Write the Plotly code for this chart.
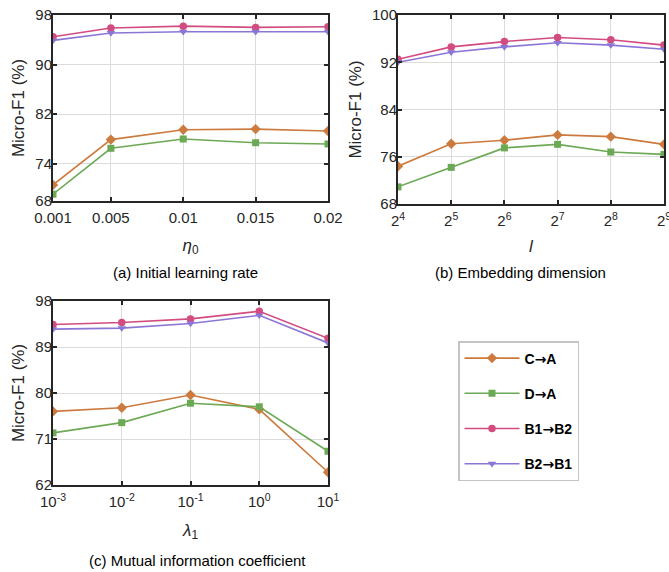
import plotly.graph_objects as go

# ---------------- data ----------------
series_names = ["C→A", "D→A", "B1→B2", "B2→B1"]

lr_values = [0.001, 0.005, 0.01, 0.015, 0.02]
lr_tick_text = ["0.001", "0.005", "0.01", "0.015", "0.02"]
lr_CA = [70.6, 77.9, 79.5, 79.6, 79.3]
lr_DA = [69.1, 76.5, 78.0, 77.4, 77.2]
lr_B1B2 = [94.5, 95.9, 96.2, 96.0, 96.1]
lr_B2B1 = [93.9, 95.1, 95.3, 95.3, 95.3]

dim_values = [16, 32, 64, 128, 256, 512]
dim_tick_text = ["2<sup>4</sup>", "2<sup>5</sup>", "2<sup>6</sup>", "2<sup>7</sup>", "2<sup>8</sup>", "2<sup>9</sup>"]
dim_CA = [74.4, 78.2, 78.8, 79.7, 79.4, 78.1]
dim_DA = [70.9, 74.2, 77.5, 78.1, 76.8, 76.4]
dim_B1B2 = [92.5, 94.6, 95.5, 96.2, 95.8, 94.9]
dim_B2B1 = [92.0, 93.7, 94.6, 95.3, 94.9, 94.2]

mi_values = [0.001, 0.01, 0.1, 1, 10]
mi_tick_text = ["10<sup>-3</sup>", "10<sup>-2</sup>", "10<sup>-1</sup>", "10<sup>0</sup>", "10<sup>1</sup>"]
mi_CA = [76.4, 77.1, 79.6, 76.8, 64.5]
mi_DA = [72.2, 74.2, 78.0, 77.3, 68.6]
mi_B1B2 = [93.4, 93.8, 94.5, 96.0, 90.7]
mi_B2B1 = [92.5, 92.7, 93.6, 95.2, 89.8]

yticks_a = [68, 74, 82, 90, 98]
yticks_b = [68, 76, 84, 92, 100]
yticks_c = [62, 71, 80, 89, 98]

# ---------------- styles ----------------
colors = ["#CC7A3E", "#6CA955", "#D24C80", "#8B76D8"]
symbols = ["diamond", "square", "circle", "triangle-down"]
msizes = [8, 7, 7.5, 7.5]
FONT = "Arial, 'Liberation Sans', Helvetica, sans-serif"
TXT = "#262626"
GRID = "#dcdcdc"

fig = go.Figure()

panels = [
    (lr_values, [lr_CA, lr_DA, lr_B1B2, lr_B2B1], "x", "y", True),
    (dim_values, [dim_CA, dim_DA, dim_B1B2, dim_B2B1], "x2", "y2", False),
    (mi_values, [mi_CA, mi_DA, mi_B1B2, mi_B2B1], "x3", "y3", False),
]
for xs, ys_list, xa, ya, show in panels:
    for i, ys in enumerate(ys_list):
        label = series_names[i].replace("→", "<span style='font-family:DejaVu Sans'>→</span>")
        fig.add_trace(go.Scatter(
            x=xs, y=ys, xaxis=xa, yaxis=ya,
            mode="lines+markers",
            name="<b>" + label + "</b>",
            legendgroup=series_names[i],
            showlegend=show,
            line=dict(color=colors[i], width=1.6),
            marker=dict(symbol=symbols[i], size=msizes[i], color=colors[i]),
        ))

W, H = 669, 572

def px_x(a, b):
    return [a / W, b / W]

def px_y(top, bottom):
    return [1 - bottom / H, 1 - top / H]

axis_common = dict(
    automargin=False,
    showline=True, linecolor=TXT, linewidth=2, mirror="ticks",
    ticks="inside", ticklen=4, tickwidth=1.5, tickcolor=TXT,
    showgrid=True, gridcolor=GRID, gridwidth=1.3,
    zeroline=False, ticklabeloverflow="allow",
    tickfont=dict(family=FONT, size=15, color=TXT),
    title_font=dict(family=FONT, size=17, color=TXT),
)
yextra = dict(ticklabelstandoff=-4)
xextra = dict(ticklabelstandoff=2)

fig.update_layout(
    width=W, height=H,
    margin=dict(l=0, r=0, t=0, b=0, autoexpand=False),
    paper_bgcolor="white", plot_bgcolor="white",
    font=dict(family=FONT, color=TXT),
    xaxis=dict(axis_common, **xextra, domain=px_x(53, 328), anchor="y",
               range=[0.001, 0.02], tickvals=lr_values, ticktext=lr_tick_text,
               title=dict(text="<i>η</i><sub>0</sub>", standoff=14)),
    yaxis=dict(axis_common, **yextra, domain=px_y(15, 201), anchor="x",
               range=[68, 98], tickvals=yticks_a,
               title=dict(text="Micro-F1 (%)", standoff=6)),
    xaxis2=dict(axis_common, **xextra, domain=px_x(398, 664), anchor="y2", type="log",
                range=[1.2041, 2.7093], tickvals=dim_values, ticktext=dim_tick_text,
                title=dict(text="<i>l</i>", standoff=12)),
    yaxis2=dict(axis_common, **yextra, domain=px_y(15, 204), anchor="x2",
                range=[68, 100], tickvals=yticks_b,
                title=dict(text="Micro-F1 (%)", standoff=6)),
    xaxis3=dict(axis_common, **xextra, domain=px_x(53, 328), anchor="y3", type="log",
                range=[-3, 1], tickvals=mi_values, ticktext=mi_tick_text,
                title=dict(text="<i>λ</i><sub>1</sub>", standoff=15)),
    yaxis3=dict(axis_common, **yextra, domain=px_y(301, 485), anchor="x3",
                range=[62, 98], tickvals=yticks_c,
                title=dict(text="Micro-F1 (%)", standoff=6)),
    legend=dict(
        x=458 / W, y=1 - 341 / H, xanchor="left", yanchor="top",
        bgcolor="white", bordercolor="#c4c4c4", borderwidth=1.5,
        font=dict(family=FONT, size=14, color="black"),
        tracegroupgap=14, itemwidth=55,
    ),
)

captions = [
    ("(a) Initial learning rate", 185, 272),
    ("(b) Embedding dimension", 520, 272),
    ("(c) Mutual information coefficient", 197, 560),
]
for text, cx, cy in captions:
    fig.add_annotation(text=text, x=cx / W, y=1 - cy / H, xref="paper", yref="paper",
                       xanchor="center", yanchor="middle", showarrow=False,
                       font=dict(family=FONT, size=15, color="black"))

fig.write_html("out.html", config={"displayModeBar": False},
               post_script="document.body.style.margin='0';")
